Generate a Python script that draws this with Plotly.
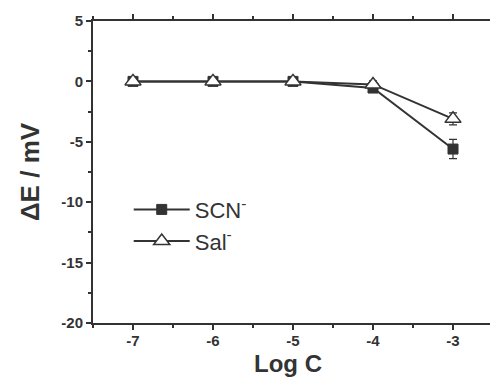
import plotly.graph_objects as go

log_c = [-7, -6, -5, -4, -3]
x_ticktext = ["-7", "-6", "-5", "-4", "-3"]
scn = [0.0, 0.0, 0.0, -0.55, -5.6]
scn_err = [0.05, 0.05, 0.05, 0.3, 0.8]
sal = [0.0, 0.0, 0.0, -0.25, -3.1]
sal_err = [0.05, 0.05, 0.05, 0.3, 0.5]
y_tickvals = [5, 0, -5, -10, -15, -20]
y_ticktext = ["5", "0", "-5", "-10", "-15", "-20"]

C = "#333333"
FONT = "Liberation Sans, Arial, sans-serif"

fig = go.Figure()
fig.add_trace(go.Scatter(
    x=log_c, y=scn, name="SCN<sup>-</sup>", mode="lines+markers",
    line=dict(color=C, width=2),
    marker=dict(symbol="square", size=10, color=C, line=dict(color=C, width=1)),
    error_y=dict(type="data", array=scn_err, color=C, thickness=1.2, width=4),
))
fig.add_trace(go.Scatter(
    x=log_c, y=sal, name="Sal<sup>-</sup>", mode="lines+markers",
    line=dict(color=C, width=2),
    marker=dict(symbol="triangle-up", size=14, color="white", line=dict(color=C, width=1.5)),
    error_y=dict(type="data", array=sal_err, color=C, thickness=1.2, width=4),
))

axis_common = dict(
    showgrid=False, zeroline=False, showline=True, linecolor=C, linewidth=2,
    ticks="outside", tickcolor=C, tickwidth=2, ticklen=5,
    tickfont=dict(family=FONT, size=15, color=C, weight="bold"),
)
fig.update_xaxes(
    **axis_common, range=[-7.5, -2.5375], tickvals=log_c, ticktext=x_ticktext,
    mirror="allticks", ticklabelstandoff=-2,
    minor=dict(dtick=0.5, tick0=-7.5, ticks="outside", ticklen=3, tickcolor=C, tickwidth=1.5),
)
fig.update_yaxes(
    **axis_common, range=[-20, 5], tickvals=y_tickvals, ticktext=y_ticktext,
    mirror=False,
    minor=dict(dtick=2.5, tick0=0, ticks="outside", ticklen=3, tickcolor=C, tickwidth=1.5),
    title=dict(text="ΔE / mV", font=dict(family=FONT, size=26, color=C, weight="bold"), standoff=14),
)
fig.add_annotation(
    text="Log C", xref="paper", yref="paper", x=0.49, y=-0.184,
    xanchor="center", yanchor="bottom", showarrow=False,
    font=dict(family=FONT, size=24, color=C, weight="bold"),
)
fig.update_layout(
    width=490, height=378, margin=dict(l=93, r=0, t=21, b=55),
    paper_bgcolor="white", plot_bgcolor="white",
    legend=dict(x=0.09, y=0.445, xanchor="left", yanchor="top",
                font=dict(family=FONT, size=22, color=C),
                bgcolor="rgba(0,0,0,0)", itemwidth=56, tracegroupgap=2),
    showlegend=True,
)
fig.write_html("out.html")
